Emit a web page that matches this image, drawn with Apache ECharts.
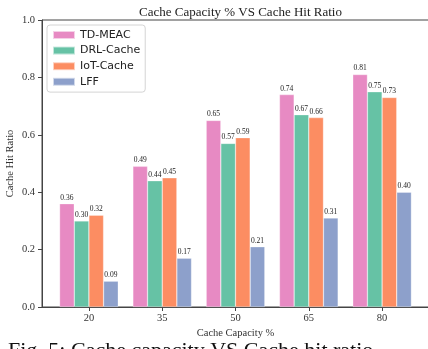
<!DOCTYPE html>
<html>
<head>
<meta charset="utf-8">
<script src="https://cdn.jsdelivr.net/npm/echarts@6/dist/echarts.min.js"></script>
<style>
  html, body { margin: 0; padding: 0; background: #fff; }
  #chart { width: 428px; height: 349px; }
</style>
</head>
<body>
<div id="chart"></div>
<script>
// Cache capacity (%) on the x axis, hit ratio per caching scheme
const categories = ['20', '35', '50', '65', '80'];
const seriesNames = ['TD-MEAC', 'DRL-Cache', 'IoT-Cache', 'LFF'];
const tdMeac   = [0.36, 0.49, 0.65, 0.74, 0.81];
const drlCache = [0.30, 0.44, 0.57, 0.67, 0.75];
const iotCache = [0.32, 0.45, 0.59, 0.66, 0.73];
const lff      = [0.09, 0.17, 0.21, 0.31, 0.40];
const yTicks = [0, 0.2, 0.4, 0.6, 0.8, 1.0];

const colors = ['#e78ac3', '#66c2a5', '#fc8d62', '#8da0cb'];
const serif = '"Liberation Serif", "Times New Roman", serif';

// Group layout: four bars of 0.2 width per category, axis padded like a 5% margin
const barUnit = 0.2;
const xMin = -0.64, xMax = categories.length - 1 + 0.64;
const gridLeft = 42, gridTop = 20, gridWidth = 387, gridHeight = 287;
const pxPerUnit = gridWidth / (xMax - xMin);

const allValues = [tdMeac, drlCache, iotCache, lff];
const series = allValues.map((vals, s) => ({
  name: seriesNames[s],
  type: 'bar',
  barWidth: barUnit * pxPerUnit,
  barGap: '-100%',
  data: vals.map((v, i) => [i + (s - 1.5) * barUnit, v]),
  itemStyle: { color: colors[s], borderColor: 'rgba(255,255,255,0.6)', borderWidth: 0.5 },
  label: {
    show: true,
    position: 'top',
    distance: 2,
    fontFamily: serif,
    fontSize: 7.5,
    color: '#222',
    formatter: p => p.value[1].toFixed(2)
  }
}));

const chart = echarts.init(document.getElementById('chart'), null, { renderer: 'canvas' });
chart.setOption({
  animation: false,
  backgroundColor: '#fff',
  title: {
    text: 'Cache Capacity % VS Cache Hit Ratio',
    left: gridLeft + gridWidth / 2,
    textAlign: 'center',
    top: 1,
    textStyle: { fontFamily: serif, fontSize: 13, fontWeight: 'normal', color: '#222' }
  },
  legend: {
    data: seriesNames,
    orient: 'vertical',
    left: 47,
    top: 25,
    icon: 'rect',
    itemWidth: 22,
    itemHeight: 8,
    itemGap: 3.6,
    itemTextGap: 8,
    padding: [4, 5, 4.3, 5],
    backgroundColor: '#fff',
    borderColor: '#d4d4d4',
    borderWidth: 1,
    borderRadius: 3,
    textStyle: { fontFamily: '"DejaVu Sans", sans-serif', fontSize: 11, lineHeight: 12, color: '#222' }
  },
  grid: {
    left: gridLeft, top: gridTop, width: gridWidth, height: gridHeight,
    show: true, borderColor: '#444', borderWidth: 1,
    containLabel: false, outerBoundsMode: 'none'
  },
  xAxis: {
    type: 'value',
    min: xMin,
    max: xMax,
    name: 'Cache Capacity %',
    nameLocation: 'middle',
    nameGap: 21,
    nameMoveOverlap: false,
    nameTextStyle: { fontFamily: serif, fontSize: 10.5, color: '#333' },
    axisLine: { show: true, onZero: false, lineStyle: { color: '#444', width: 1 } },
    axisTick: { show: true, length: 4, lineStyle: { color: '#444' }, customValues: categories.map((c, i) => i) },
    axisLabel: {
      fontFamily: serif, fontSize: 10.5, color: '#333', margin: 6,
      customValues: categories.map((c, i) => i),
      formatter: v => categories[Math.round(v)]
    },
    splitLine: { show: false }
  },
  yAxis: {
    type: 'value',
    min: 0,
    max: 1,
    interval: 0.2,
    name: 'Cache Hit Ratio',
    nameLocation: 'middle',
    nameGap: 26,
    nameMoveOverlap: false,
    nameTextStyle: { fontFamily: serif, fontSize: 10.5, color: '#333' },
    axisLine: { show: true, onZero: false, lineStyle: { color: '#444', width: 1 } },
    axisTick: { show: true, length: 4, lineStyle: { color: '#444' } },
    axisLabel: {
      fontFamily: serif, fontSize: 10.5, color: '#333', margin: 7,
      customValues: yTicks,
      formatter: v => v.toFixed(1)
    },
    splitLine: { show: false }
  },
  graphic: [{
    type: 'text',
    left: 8,
    top: 340,
    style: {
      text: 'Fig. 5: Cache capacity VS Cache hit ratio',
      font: '22px ' + serif,
      fill: '#111'
    }
  }],
  series: series
});
</script>
</body>
</html>
